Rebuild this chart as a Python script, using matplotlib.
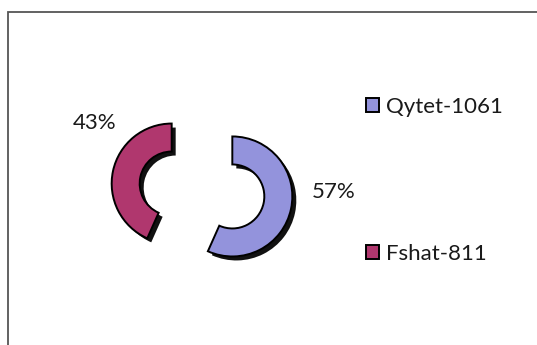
import matplotlib.pyplot as plt
from matplotlib.patches import Rectangle

# Data
categories = ['Qytet-1061', 'Fshat-811']
counts = [1061, 811]
colors = ['#9393DC', '#B0376E']

plt.rcParams['font.family'] = ['Lato', 'DejaVu Sans']

fig = plt.figure(figsize=(5.37, 3.45), dpi=100)
# axes in pixel units so the layout is easy to place
ax = fig.add_axes([0, 0, 1, 1])

cx, cy = 202, 155
radius = 60
ring = 28
explode = [31, 31]

# shadow copy, shifted down-right
ax.pie(counts, colors=['#111111'] * 2, startangle=90, counterclock=False,
       radius=radius, center=(cx + 4, cy - 4), explode=explode,
       wedgeprops=dict(width=ring, linewidth=0))
wedges, _ = ax.pie(counts, colors=colors, startangle=90, counterclock=False,
                   radius=radius, center=(cx, cy), explode=explode,
                   wedgeprops=dict(width=ring, edgecolor='black', linewidth=1.4))

ax.set_xlim(0, 537)
ax.set_ylim(0, 345)
ax.set_aspect('equal')
ax.axis('off')

total = sum(counts)
pcts = [f'{round(c / total * 100)}%' for c in counts]
ax.text(334, 345 - 192, pcts[0], fontsize=16, ha='center', va='center', color='#1a1a1a')
ax.text(95, 345 - 123, pcts[1], fontsize=16, ha='center', va='center', color='#1a1a1a')

leg = ax.legend(wedges, categories, loc='upper left', bbox_to_anchor=(366 / 537, 1 - 97 / 345),
                bbox_transform=fig.transFigure, frameon=False, fontsize=16,
                handlelength=0.6, handleheight=0.6, handletextpad=0.3,
                labelspacing=5.7, borderaxespad=0, borderpad=0)
for t in leg.get_texts():
    t.set_color('#1a1a1a')

# chart border (only top and left edges are inside the image)
fig.add_artist(Rectangle((8 / 537, -0.1), 1.2, 1.1 - 12 / 345, transform=fig.transFigure,
                         fill=False, edgecolor='#555555', linewidth=1.3))

fig.savefig('out.png', dpi=100)
